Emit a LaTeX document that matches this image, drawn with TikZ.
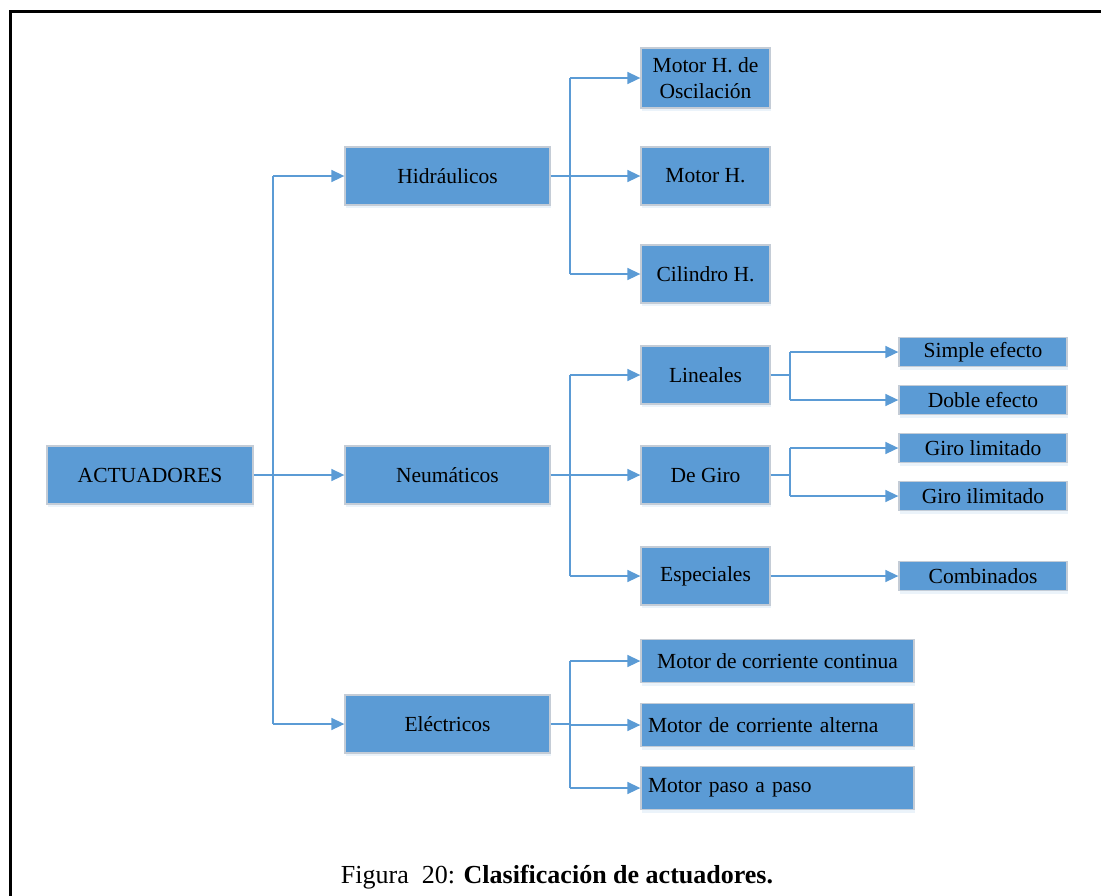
\documentclass[tikz,border=0pt]{standalone}
\usepackage{fontspec}
\setmainfont{Liberation Serif}
\usetikzlibrary{arrows.meta,shadows,calc}
\definecolor{boxblue}{HTML}{5B9BD5}
\definecolor{boxedge}{HTML}{C4CCD6}
\tikzset{
  box/.style={rectangle, fill=boxblue, draw=boxedge, line width=1.3pt,
    inner sep=0pt, align=center, text=black,
    font=\fontsize{21.5}{26}\selectfont,
    drop shadow={shadow xshift=1pt, shadow yshift=-3pt, opacity=0.12, fill=boxblue}},
  leftbox/.style={box, inner xsep=7pt, text width=259pt, align=left},
  link/.style={draw=boxblue, line width=1.6pt,
    -{Triangle[length=13pt,width=12pt]}},
  trunk/.style={draw=boxblue, line width=1.6pt},
}
\begin{document}
\begin{tikzpicture}[x=1pt,y=-1pt]
\useasboundingbox (0,0) rectangle (1101,895);
% frame around the figure
\draw[line width=3pt, black] (10,900) -- (10,11) -- (1106,11);

% root and first level
\node[box, minimum width=206, minimum height=58] (act) at (150,475) {ACTUADORES};
\node[box, minimum width=205, minimum height=58] (hid) at (447.5,176) {Hidráulicos};
\node[box, minimum width=205, minimum height=58] (neu) at (447.5,475) {Neumáticos};
\node[box, minimum width=205, minimum height=58] (ele) at (447.5,724) {Eléctricos};

% hydraulic branch
\node[box, minimum width=129, minimum height=60] (hosc) at (705.5,78) {Motor H. de\\Oscilación};
\node[box, minimum width=129, minimum height=58] (hmot) at (705.5,176) {Motor H.};
\node[box, minimum width=129, minimum height=58] (hcil) at (705.5,274) {Cilindro H.};

% pneumatic branch
\node[box, minimum width=129, minimum height=58] (nlin) at (705.5,375) {Lineales};
\node[box, minimum width=129, minimum height=58] (ngir) at (705.5,475) {De Giro};
\node[box, minimum width=129, minimum height=58] (nesp) at (705.5,576) {Especiales};

\node[box, minimum width=168, minimum height=29] (simp) at (983,352) {Simple efecto};
\node[box, minimum width=168, minimum height=29] (dobl) at (983,400) {Doble efecto};
\node[box, minimum width=168, minimum height=29] (glim) at (983,448) {Giro limitado};
\node[box, minimum width=168, minimum height=29] (gili) at (983,496) {Giro ilimitado};
\node[box, minimum width=168, minimum height=29] (comb) at (983,576) {Combinados};

% electric branch
\node[box, minimum width=273, minimum height=43] (ecc) at (777.5,661) {Motor de corriente continua};
\node[leftbox, minimum width=273, minimum height=43] (eca) at (777.5,725) {Motor de corriente alterna};
\node[leftbox, minimum width=273, minimum height=43] (epp) at (777.5,788) {Motor paso a paso};

% connectors from the root
\coordinate (j0) at (273,475);
\draw[trunk] (act.east) -- (j0);
\draw[trunk] (j0 |- hid.west) -- (j0 |- ele.west);
\draw[link] (j0 |- hid.west) -- (hid.west);
\draw[link] (j0) -- (neu.west);
\draw[link] (j0 |- ele.west) -- (ele.west);

% hydraulic connectors
\coordinate (j1) at (570,176);
\draw[trunk] (hid.east) -- (j1);
\draw[trunk] (j1 |- hosc.west) -- (j1 |- hcil.west);
\draw[link] (j1 |- hosc.west) -- (hosc.west);
\draw[link] (j1) -- (hmot.west);
\draw[link] (j1 |- hcil.west) -- (hcil.west);

% pneumatic connectors
\coordinate (j2) at (570,475);
\draw[trunk] (neu.east) -- (j2);
\draw[trunk] (j2 |- nlin.west) -- (j2 |- nesp.west);
\draw[link] (j2 |- nlin.west) -- (nlin.west);
\draw[link] (j2) -- (ngir.west);
\draw[link] (j2 |- nesp.west) -- (nesp.west);

\coordinate (j3) at (790,375);
\draw[trunk] (nlin.east) -- (j3);
\draw[trunk] (j3 |- simp.west) -- (j3 |- dobl.west);
\draw[link] (j3 |- simp.west) -- (simp.west);
\draw[link] (j3 |- dobl.west) -- (dobl.west);

\coordinate (j4) at (790,475);
\draw[trunk] (ngir.east) -- (j4);
\draw[trunk] (j4 |- glim.west) -- (j4 |- gili.west);
\draw[link] (j4 |- glim.west) -- (glim.west);
\draw[link] (j4 |- gili.west) -- (gili.west);

\draw[link] (nesp.east) -- (comb.west);

% electric connectors
\coordinate (j5) at (570,724);
\draw[trunk] (ele.east) -- (j5);
\draw[trunk] (j5 |- ecc.west) -- (j5 |- epp.west);
\draw[link] (j5 |- ecc.west) -- (ecc.west);
\draw[link] (j5 |- eca.west) -- (eca.west);
\draw[link] (j5 |- epp.west) -- (epp.west);

% caption
\node[font=\fontsize{26}{28}\selectfont, anchor=base] (cap) at (557,883)
  {Figura\ \ 20: \textbf{Clasificación de actuadores.}};
\end{tikzpicture}
\end{document}
